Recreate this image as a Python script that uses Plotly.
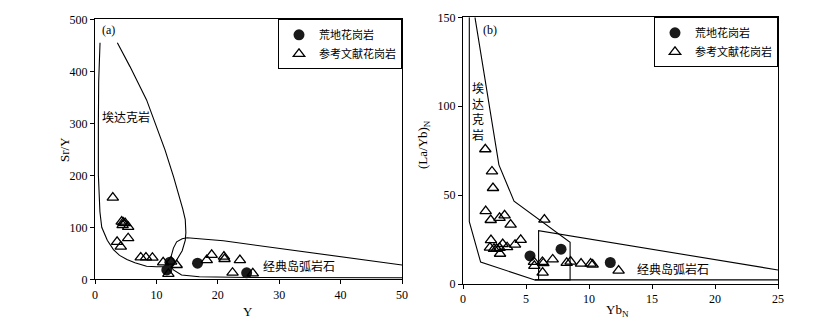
import plotly.graph_objects as go

# ---- panel (a): Sr/Y vs Y ----
a_ref_y = [2.9, 4.35, 4.6, 4.9, 4.5, 5.4, 5.4, 3.6, 4.2, 7.45, 8.3, 9.35, 11.1, 11.95,
           13.3, 12.4, 18.2, 19.0, 21.0, 21.1, 22.4, 23.6, 25.7]
a_ref_sry = [157, 111, 109, 108, 104, 101, 79, 72, 63, 42, 42, 41.5, 32.5, 10.5,
             27.5, 34, 37, 47, 43.5, 39, 12.7, 37, 11.5]
a_hd_y = [12.2, 11.7, 16.7, 24.7]
a_hd_sry = [33, 18, 31, 12.5]

# field boundaries (a)
a_adakite_x = [0.82, 0.7, 0.6, 0.55, 0.55, 0.8, 1.1, 2.0, 3.0, 4.0, 5.2, 6.5, 8.4, 10.0,
               11.5, 12.3, 13.2, 14.2, 14.7, 14.8, 14.7, 14.3, 13.5, 12.8, 11.4, 8.4, 5.7, 3.64]
a_adakite_sry = [455, 420, 380, 300, 200, 130, 100, 75, 57, 46, 38, 32, 25, 24,
                 24, 26, 35, 55, 75, 90, 115, 135, 170, 197, 249, 345, 409, 455]
a_arc_x = [50, 20.9, 15.0, 14.2, 13.3, 12.77, 12.39, 12.23, 12.77, 14.1, 17, 25, 50]
a_arc_sry = [27.5, 74, 80, 78, 72, 60, 43.5, 27.5, 18, 8.3, 5, 3.5, 3]

# ---- panel (b): (La/Yb)N vs YbN ----
b_ref_yb = [1.77, 2.3, 2.38, 1.8, 2.2, 2.9, 3.3, 3.78, 6.46, 2.22, 2.14, 2.46, 2.67, 2.9,
            3.15, 2.94, 3.5, 4.13, 4.58, 5.63, 5.66, 6.38, 6.3, 6.32, 7.12, 8.23, 8.54,
            9.37, 10.13, 10.29, 12.35]
b_ref_layb = [75.8, 63.3, 54, 41, 36, 37.2, 38.6, 33.4, 36.2, 24.7, 20.5, 19.8, 19.8, 20.3,
              22.5, 17, 20.7, 22.1, 24.8, 12.4, 10.2, 11.7, 12.4, 6.4, 13.8, 11.9, 12.6,
              11.5, 11.5, 10.9, 7.5]
b_hd_yb = [5.32, 7.78, 11.69]
b_hd_layb = [15.8, 19.6, 12.1]

b_adakite_x = [0.95, 2.85, 4.05, 8.5, 8.5, 5.7, 1.4, 0.5, 0.5]
b_adakite_layb = [150, 67, 46.6, 23.4, 2.3, 2.3, 12.3, 35, 150]
b_arc_x = [25, 6, 6, 5.7, 25]
b_arc_layb = [7.9, 30, 2.3, 2.3, 2.3]

legend_names = ['荒地花岗岩', '参考文献花岗岩']

# page body has an 8px margin, so the figure is drawn 8px smaller and everything offset
OFF = 8
W, H = 820 - OFF, 321 - OFF
FONT = 'Liberation Serif, Times New Roman, Noto Sans CJK SC'
CJK = 'Noto Sans CJK SC'


def fx(x):
    return (x - OFF) / W


def fy(y):
    return 1 - (y - OFF) / H


fig = go.Figure()

line_style = dict(color='black', width=1.1)
fig.add_trace(go.Scatter(x=a_adakite_x, y=a_adakite_sry, mode='lines', line=line_style,
                         showlegend=False, hoverinfo='skip', xaxis='x', yaxis='y'))
fig.add_trace(go.Scatter(x=a_arc_x, y=a_arc_sry, mode='lines', line=line_style,
                         showlegend=False, hoverinfo='skip', xaxis='x', yaxis='y'))
fig.add_trace(go.Scatter(x=b_adakite_x, y=b_adakite_layb, mode='lines', line=line_style,
                         showlegend=False, hoverinfo='skip', xaxis='x2', yaxis='y2'))
fig.add_trace(go.Scatter(x=b_arc_x, y=b_arc_layb, mode='lines', line=line_style,
                         showlegend=False, hoverinfo='skip', xaxis='x2', yaxis='y2'))

circle = dict(symbol='circle', size=11, color='#1a1a1a')
tri = dict(symbol='triangle-up-open', size=10, color='black', line=dict(width=1.3, color='black'))

fig.add_trace(go.Scatter(x=a_hd_y, y=a_hd_sry, mode='markers', marker=circle,
                         name=legend_names[0], legend='legend', xaxis='x', yaxis='y'))
fig.add_trace(go.Scatter(x=a_ref_y, y=a_ref_sry, mode='markers', marker=tri,
                         name=legend_names[1], legend='legend', xaxis='x', yaxis='y'))
fig.add_trace(go.Scatter(x=b_hd_yb, y=b_hd_layb, mode='markers', marker=circle,
                         name=legend_names[0], legend='legend2', xaxis='x2', yaxis='y2'))
fig.add_trace(go.Scatter(x=b_ref_yb, y=b_ref_layb, mode='markers', marker=tri,
                         name=legend_names[1], legend='legend2', xaxis='x2', yaxis='y2'))

axis_common = dict(showline=True, linecolor='black', linewidth=1, mirror=True,
                   ticks='outside', ticklen=4, tickcolor='black', showgrid=False,
                   zeroline=False, automargin=False,
                   tickfont=dict(family=FONT, size=12, color='black'))

legend_common = dict(bgcolor='white', bordercolor='black', borderwidth=1,
                     font=dict(family=CJK, size=11, color='black'),
                     xanchor='right', yanchor='top', itemwidth=30, tracegroupgap=0)

fig.update_layout(
    width=W, height=H, margin=dict(l=0, r=0, t=0, b=0, autoexpand=False),
    plot_bgcolor='white', paper_bgcolor='white',
    xaxis=dict(domain=[fx(95), fx(402)], range=[0, 50], dtick=10, anchor='y', **axis_common),
    yaxis=dict(domain=[fy(279.3), fy(19.3)], range=[0, 500], dtick=100, anchor='x',
               **axis_common),
    xaxis2=dict(domain=[fx(463), fx(778)], range=[0, 25], dtick=5, anchor='y2', **axis_common),
    yaxis2=dict(domain=[fy(284), fy(17.3)], range=[0, 150], dtick=50, anchor='x2',
                **axis_common),
    legend=dict(x=fx(402), y=fy(19.3), **legend_common),
    legend2=dict(x=fx(778), y=fy(17.3), **legend_common),
)

notes = [
    ('(a)', 108, 30, 0, FONT, 12),
    ('(b)', 490, 30, 0, FONT, 12),
    ('埃达克岩', 126, 117, 0, CJK, 12),
    ('经典岛弧岩石', 299, 265, 0, CJK, 12),
    ('埃<br>达<br>克<br>岩', 478, 111, 0, CJK, 12),
    ('经典岛弧岩石', 673, 268, 0, CJK, 12),
    ('Y', 248, 311, 0, FONT, 13),
    ('Yb<sub>N</sub>', 617, 310, 0, FONT, 13),
    ('Sr/Y', 64, 150, -90, FONT, 13),
    ('(La/Yb)<sub>N</sub>', 423, 145, -90, FONT, 13),
]
for text, x, y, ang, fam, size in notes:
    fig.add_annotation(text=text, x=fx(x), y=fy(y), xref='paper', yref='paper', showarrow=False,
                       textangle=ang, xanchor='center', yanchor='middle',
                       font=dict(family=fam, size=size, color='black'))

fig.write_html("out.html")
